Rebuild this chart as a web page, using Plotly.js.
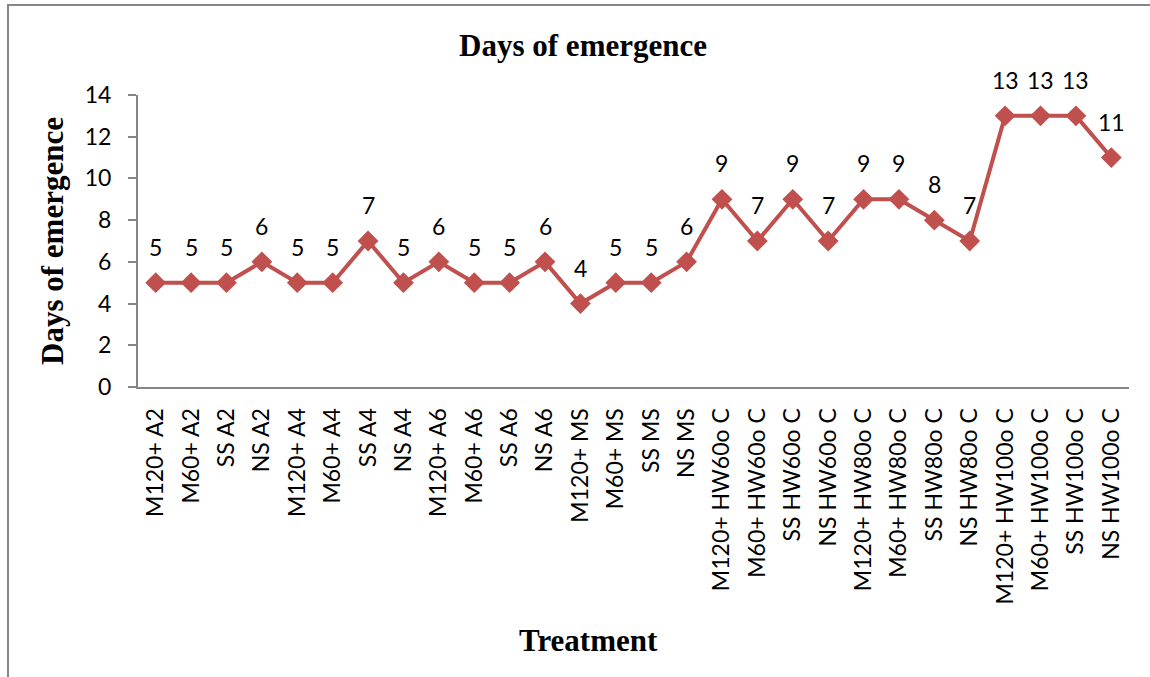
<!DOCTYPE html>
<html>
<head>
<meta charset="utf-8">
<script src="https://cdn.plot.ly/plotly-3.0.1.min.js"></script>
<style>html,body{margin:0;padding:0;background:#fff;}#chart{width:1150px;height:677px;}</style>
</head>
<body>
<div id="chart"></div>
<script>
const treatments = [
  "M120+ A2","M60+ A2","SS A2","NS A2",
  "M120+ A4","M60+ A4","SS A4","NS A4",
  "M120+ A6","M60+ A6","SS A6","NS A6",
  "M120+ MS","M60+ MS","SS MS","NS MS",
  "M120+ HW60o C","M60+ HW60o C","SS HW60o C","NS HW60o C",
  "M120+ HW80o C","M60+ HW80o C","SS HW80o C","NS HW80o C",
  "M120+ HW100o C","M60+ HW100o C","SS HW100o C","NS HW100o C"
];
const daysOfEmergence = [
  5,5,5,6,
  5,5,7,5,
  6,5,5,6,
  4,5,5,6,
  9,7,9,7,
  9,9,8,7,
  13,13,13,11
];
const yTicks = [0,2,4,6,8,10,12,14];

const labelFont = {family: "Lato, 'Open Sans', sans-serif", size: 23, color: "#000"};
const titleFont = {family: "'Liberation Serif', 'Times New Roman', serif", size: 31, color: "#000", weight: "bold"};

const trace = {
  x: treatments,
  y: daysOfEmergence,
  type: "scatter",
  mode: "lines+markers",
  line: {color: "#C0504D", width: 4},
  marker: {symbol: "diamond", size: 16, color: "#C0504D"},
  hoverinfo: "x+y",
  showlegend: false
};

const annotations = treatments.map((t, i) => ({
  x: t, y: daysOfEmergence[i], xref: "x", yref: "y",
  text: String(daysOfEmergence[i]), showarrow: false,
  yshift: 36, font: labelFont
}));
annotations.push({
  text: "<b>Treatment</b>", font: titleFont, showarrow: false,
  xref: "paper", yref: "paper", x: (588 - 138) / 991, y: (387 - 640) / 292,
  xanchor: "center", yanchor: "middle"
});

const layout = {
  width: 1150, height: 677,
  margin: {l: 138, r: 21, t: 95, b: 290},
  paper_bgcolor: "#fff", plot_bgcolor: "#fff",
  title: {text: "<b>Days of emergence</b>", font: titleFont, x: 0.507, xanchor: "center", y: 0.933, yanchor: "middle", yref: "container"},
  xaxis: {
    type: "category",
    showline: true, linecolor: "#868686", linewidth: 2,
    showgrid: false, zeroline: false,
    ticks: "", tickangle: -90, tickfont: labelFont,
    ticklabelstandoff: 10,
    range: [-0.5, treatments.length - 0.5]
  },
  yaxis: {
    range: [0, 14], tickvals: yTicks,
    showline: true, linecolor: "#868686", linewidth: 2,
    showgrid: false, zeroline: false,
    ticks: "outside", ticklen: 8, tickcolor: "#868686", tickwidth: 2,
    tickfont: labelFont, ticklabelstandoff: 12,
    title: {text: "<b>Days of emergence</b>", font: titleFont, standoff: 12}
  },
  annotations: annotations,
  shapes: [{
    type: "rect", xref: "paper", yref: "paper",
    x0: (8 - 138) / 991, x1: (1160 - 138) / 991,
    y0: (387 - 690) / 292, y1: (387 - 5) / 292,
    line: {color: "#868686", width: 2}, fillcolor: "rgba(0,0,0,0)", layer: "below"
  }]
};

Plotly.newPlot("chart", [trace], layout, {displayModeBar: false, responsive: false});
</script>
</body>
</html>
